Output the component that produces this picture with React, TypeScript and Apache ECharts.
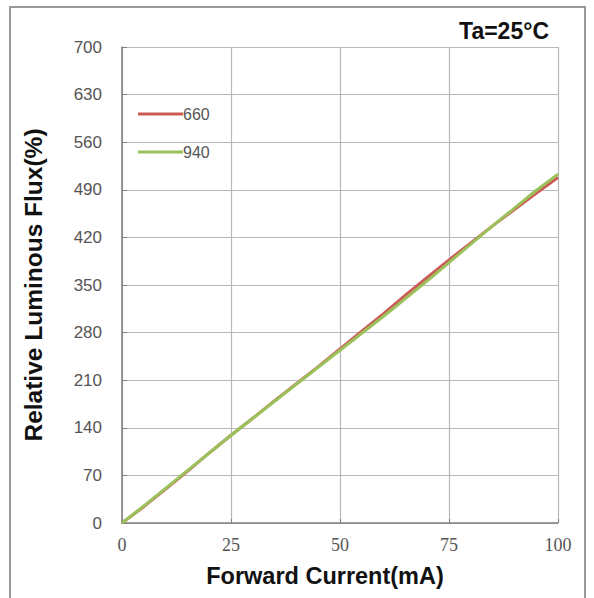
import React, { useEffect, useRef } from "react";
import * as echarts from "echarts";

const currents = [0, 5, 10, 15, 20, 25, 30, 35, 40, 45, 50, 55, 60, 65, 70, 75, 80, 85, 90, 95, 100];
const flux660 = [0, 24, 50, 76, 103, 129, 154, 180, 205, 230, 256, 282, 308, 335, 361, 387, 412, 437, 461, 485, 508];
const flux940 = [0, 25, 51, 77, 103, 129, 154, 179, 204, 229, 254, 279, 304, 330, 356, 383, 410, 437, 463, 489, 513];
const seriesNames = ["660", "940"];
const xTicks = [0, 25, 50, 75, 100];
const yTicks = [0, 70, 140, 210, 280, 350, 420, 490, 560, 630, 700];

export default function App() {
  const ref = useRef<HTMLDivElement>(null);
  useEffect(() => {
    if (!ref.current) return;
    const chart = echarts.init(ref.current, null, { renderer: "svg" });
    chart.setOption({
      animation: false,
      backgroundColor: "#ffffff",
      grid: { left: 122, top: 47, width: 436, height: 476, containLabel: false },
      title: {
        text: "Ta=25°C",
        right: 40,
        top: 14,
        textStyle: { fontFamily: "Liberation Sans, Arial", fontWeight: "bold", fontSize: 23, color: "#111" },
      },
      legend: {
        orient: "vertical",
        left: 133,
        top: 101,
        itemWidth: 45,
        itemHeight: 3,
        itemGap: 22,
        icon: "rect",
        data: seriesNames,
        textStyle: { fontFamily: "Liberation Sans, Arial", fontSize: 16, color: "#555", padding: [0, 0, 0, -5] },
      },
      graphic: [
        {
          type: "rect",
          shape: { x: 10, y: 7, width: 575, height: 600 },
          style: { fill: "none", stroke: "#9a9a9a", lineWidth: 2 },
          silent: true,
        },
      ],
      xAxis: {
        type: "value",
        min: 0,
        max: 100,
        interval: 25,
        name: "Forward Current(mA)",
        nameLocation: "middle",
        nameGap: 41,
        nameTextStyle: {
          fontFamily: "Liberation Sans, Arial",
          fontWeight: "bold",
          fontSize: 23.5,
          color: "#111",
          padding: [0, 30, 0, 0],
        },
        axisLine: { show: true, lineStyle: { color: "#808080", width: 1.5 } },
        axisTick: { show: true, inside: true, length: 4, lineStyle: { color: "#808080" } },
        axisLabel: {
          fontFamily: "Liberation Serif, Times New Roman",
          fontSize: 18,
          color: "#555",
          margin: 13,
          formatter: (v: number) => (xTicks.includes(v) ? String(v) : ""),
        },
        splitLine: { show: true, lineStyle: { color: "#b8b8b8", width: 1.2 } },
      },
      yAxis: {
        type: "value",
        min: 0,
        max: 700,
        interval: 70,
        name: "Relative Luminous Flux(%)",
        nameLocation: "middle",
        nameGap: 76,
        nameRotate: 90,
        nameTextStyle: { fontFamily: "Liberation Sans, Arial", fontWeight: "bold", fontSize: 24.5, color: "#111" },
        axisLine: { show: true, lineStyle: { color: "#808080", width: 1.5 } },
        axisTick: { show: true, inside: true, length: 5, lineStyle: { color: "#808080" } },
        axisLabel: {
          fontFamily: "Liberation Sans, Arial",
          fontSize: 17,
          color: "#555",
          margin: 20,
          formatter: (v: number) => (yTicks.includes(v) ? String(v) : ""),
        },
        splitLine: { show: true, lineStyle: { color: "#b8b8b8", width: 1.2 } },
      },
      series: [
        {
          name: seriesNames[0],
          type: "line",
          data: currents.map((c, i) => [c, flux660[i]]),
          showSymbol: false,
          lineStyle: { color: "#cc5b57", width: 3 },
          itemStyle: { color: "#cc5b57" },
        },
        {
          name: seriesNames[1],
          type: "line",
          data: currents.map((c, i) => [c, flux940[i]]),
          showSymbol: false,
          lineStyle: { color: "#9bc25a", width: 3 },
          itemStyle: { color: "#9bc25a" },
        },
      ],
    });
    return () => chart.dispose();
  }, []);
  return (
    <div style={{ position: "fixed", left: 0, top: 0, width: 594, height: 598, background: "#fff" }}>
      <div ref={ref} style={{ width: 594, height: 598 }} />
    </div>
  );
}
